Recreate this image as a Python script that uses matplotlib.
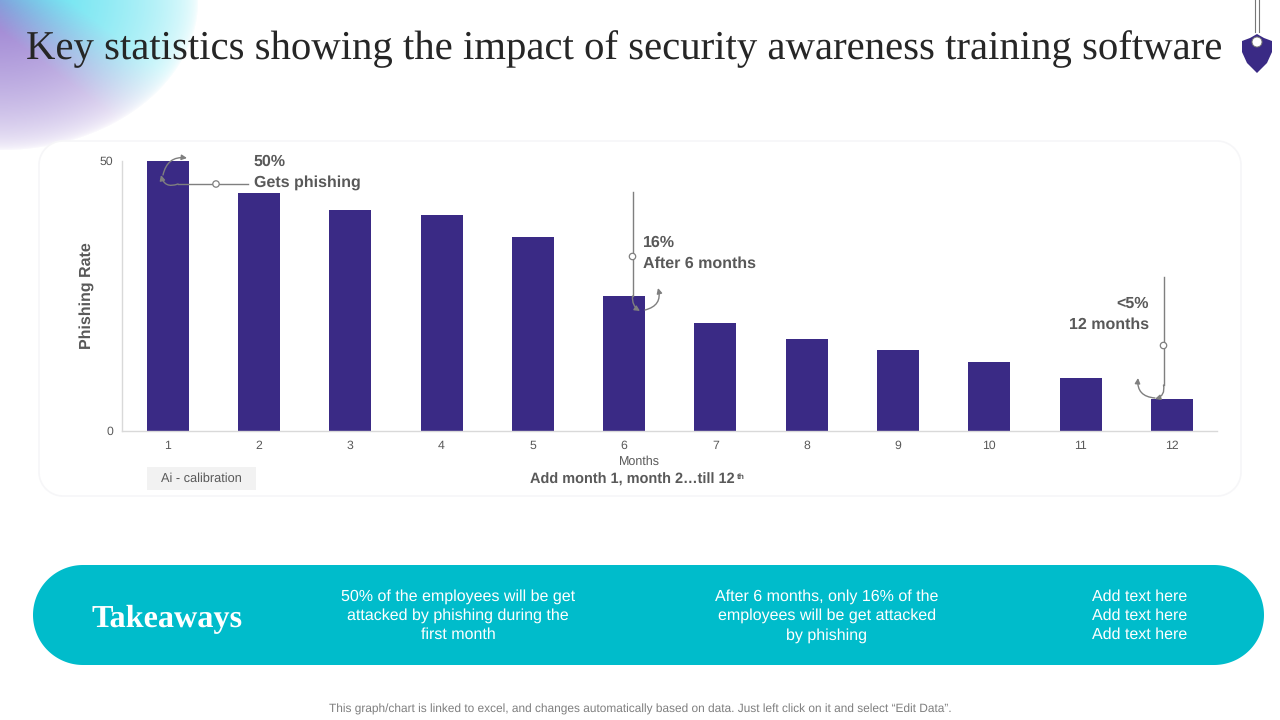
import numpy as np
import matplotlib
matplotlib.use("Agg")
import matplotlib.pyplot as plt
from matplotlib.patches import Rectangle, Polygon, Circle, FancyArrowPatch
from matplotlib.lines import Line2D

plt.rcParams["text.hinting"] = "no_hinting"

months = [str(i) for i in range(1, 13)]
phishing_rate = [50, 44, 41, 40, 36, 25, 20, 17, 15, 12.8, 9.8, 5.9]
y_ticks = [0, 50]

TITLE = "Key statistics showing the impact of security awareness training software"
TAKEAWAYS = ["50% of the employees will be get\nattacked by phishing during the\nfirst month",
             "After 6 months, only 16% of the\nemployees will be get attacked\nby phishing",
             "Add text here\nAdd text here\nAdd text here"]
FOOT = "This graph/chart is linked to excel, and changes automatically based on data. Just left click on it and select \u201cEdit Data\u201d."

SANS = "Liberation Sans"
SERIF = "Liberation Serif"
BAR = "#3A2A85"
TEAL = "#00BCCB"
GREY = "#595959"

fig = plt.figure(figsize=(12.8, 7.2), dpi=100, facecolor="white")


def round_rect(x, y, w, h, r, **kw):
    th = np.linspace(0, np.pi / 2, 40)
    c, s = np.cos(th), np.sin(th)
    px = np.r_[x + w - r + r * c, x + r - r * s, x + r - r * c, x + w - r + r * s]
    py = np.r_[y + r - r * s, y + r - r * c, y + h - r + r * s, y + h - r + r * c]
    return Polygon(np.c_[px, py], closed=True, **kw)


# overlay in pixel coordinates
bg = fig.add_axes([0, 0, 1, 1], zorder=0)
bg.set_xlim(0, 1280); bg.set_ylim(720, 0); bg.axis("off")

# corner gradient
yy, xx = np.mgrid[0:160, 0:210]
r = np.sqrt((xx / 198.0) ** 2 + (yy / 150.0) ** 2)
alpha = np.clip(1 - r, 0, 1) ** 0.55
t = np.clip((xx / 198.0 - yy / 150.0 + 0.2) / 0.55, 0, 1)[..., None]
purple = np.array([0.60, 0.50, 0.82]); cyan = np.array([0.34, 0.88, 0.94])
rgba = np.dstack([purple * (1 - t) + cyan * t, alpha])
bg.imshow(rgba, extent=(0, 210, 160, 0), aspect="auto", interpolation="bilinear", zorder=0)
bg.set_xlim(0, 1280); bg.set_ylim(720, 0)

bg.text(26, 49, TITLE, family=SERIF, fontsize=29.34, color="#262626", va="center", ha="left", zorder=3)

# card
bg.add_patch(round_rect(39, 141, 1202, 355, 24, fc="white", ec="#F6F6F8", lw=1.2, zorder=1))

# shield icon
bg.add_line(Line2D([1255, 1255], [0, 32], color="#777777", lw=0.8, zorder=3))
bg.add_line(Line2D([1259, 1259], [0, 32], color="#777777", lw=0.8, zorder=3))
bg.add_patch(Polygon([(1242, 41), (1250, 38), (1257, 34), (1264, 38), (1272, 41), (1272, 52),
                      (1267, 63), (1257, 73), (1247, 63), (1242, 52)], closed=True, fc=BAR, ec="none", zorder=3))
bg.add_patch(Circle((1257, 42), 5, fc="white", ec="#777777", lw=0.7, zorder=4))

# takeaways band
bg.add_patch(round_rect(33, 565, 1231, 100, 50, fc=TEAL, ec="none", zorder=1))
bg.text(167, 619, "Takeaways", family=SERIF, weight="bold", fontsize=23.2, color="white", ha="center", va="center", zorder=3)
for x, s in zip([458, 827, 1140], TAKEAWAYS):
    bg.text(x, 616, s, family=SANS, fontsize=11.5, color="white", ha="center", va="center",
            linespacing=1.36, zorder=3)
bg.text(640, 709, FOOT, family=SANS, fontsize=8.6, color="#7F7F7F", ha="center", va="center", zorder=3)

# chart
ax = fig.add_axes([122 / 1280, 1 - 431 / 720, (1217.5 - 122) / 1280, (431 - 161) / 720], zorder=2)
ax.patch.set_alpha(0)
ax.bar(np.arange(12), phishing_rate, width=0.46, color=BAR, zorder=2)
ax.set_xlim(-0.5, 11.5); ax.set_ylim(0, 50)
ax.set_xticks(np.arange(12), months)
ax.set_yticks(y_ticks)
ax.tick_params(length=0, labelsize=8.8, labelcolor=GREY, pad=6.5)
for lab in ax.get_xticklabels() + ax.get_yticklabels():
    lab.set_family(SANS)
for s in ("top", "right"):
    ax.spines[s].set_visible(False)
for s in ("left", "bottom"):
    ax.spines[s].set_color("#D9D9D9"); ax.spines[s].set_linewidth(1)
ax.set_ylabel("Phishing Rate", family=SANS, weight="bold", fontsize=11.5, color=GREY)
ax.yaxis.set_label_coords((94.5 - 122) / (1217.5 - 122), 0.5)

# annotations above the chart
top = fig.add_axes([0, 0, 1, 1], zorder=3)
top.set_xlim(0, 1280); top.set_ylim(720, 0); top.axis("off"); top.patch.set_alpha(0)
LC = "#7F7F7F"


def note(x, y, s, ha="left"):
    top.text(x, y, s, family=SANS, weight="bold", fontsize=11.5, color=GREY, ha=ha, va="center", linespacing=1.5)


def hook(a, b, rad):
    top.add_patch(FancyArrowPatch(a, b, connectionstyle=f"arc3,rad={rad}",
                                  arrowstyle="-|>,head_length=1.4,head_width=0.7",
                                  color=LC, lw=1, shrinkA=0, shrinkB=0, mutation_scale=2.2))


def ring(x, y):
    top.add_patch(Circle((x, y), 3.2, fc="white", ec=LC, lw=0.9, zorder=5))


note(254, 172, "50%\nGets phishing")
top.add_line(Line2D([248, 178], [184, 184], color=LC, lw=1))
ring(216, 184)
hook((178, 184), (161, 175), -0.55)
hook((163, 175), (187, 158), -0.45)

note(643, 253, "16%\nAfter 6 months")
top.add_line(Line2D([632.5, 632.5], [192, 296], color=LC, lw=1))
ring(632.5, 256.5)
hook((632.5, 296), (640, 311), 0.3)
hook((645, 310), (658, 288), 0.5)

note(1149, 314, "<5%\n12 months", ha="right")
top.add_line(Line2D([1163.5, 1163.5], [277, 385], color=LC, lw=1))
ring(1163.5, 345.5)
hook((1163.5, 385), (1155, 399), -0.45)
hook((1155, 398), (1138, 378), -0.5)

# lower labels
top.text(639, 461.5, "Months", family=SANS, fontsize=9, color=GREY, ha="center", va="center")
top.add_patch(Rectangle((147, 467), 109, 23, fc="#F2F2F2", ec="none"))
top.text(201.5, 479, "Ai - calibration", family=SANS, fontsize=9.2, color=GREY, ha="center", va="center")
top.text(530, 480, "Add month 1, month 2\u2026till 12", family=SANS, weight="bold", fontsize=10.45, color=GREY, ha="left", va="center")
top.text(736.5, 477, "th", family=SANS, weight="bold", fontsize=6, color=GREY, ha="left", va="center")

fig.savefig("out.png", dpi=100)
